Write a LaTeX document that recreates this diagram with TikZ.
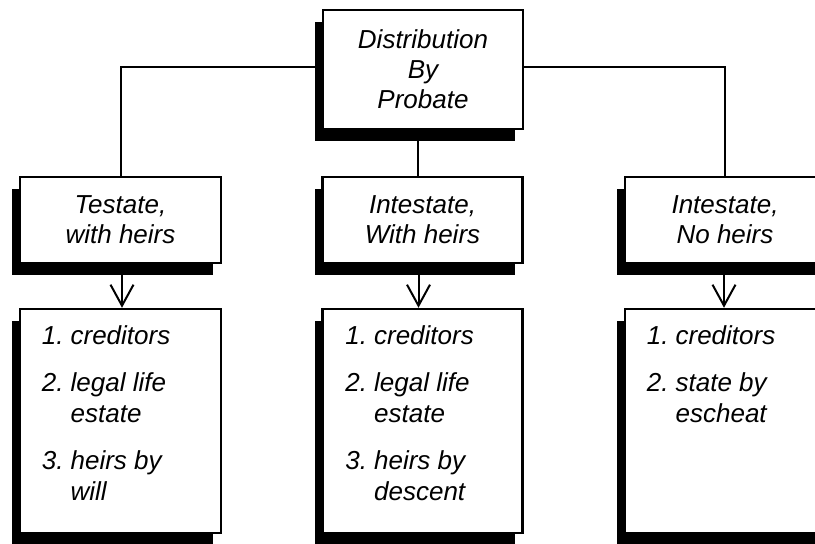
\documentclass[tikz,border=0pt]{standalone}
\usepackage{fontspec}
\setmainfont{Liberation Sans}
\usetikzlibrary{shadows,arrows.meta}
\begin{document}
\begin{tikzpicture}[x=1pt,y=-1pt,
  box/.style={draw, line width=2.5pt, fill=white, inner sep=0pt, align=center,
    font=\fontsize{26}{30}\selectfont\itshape,
    drop shadow={shadow xshift=-8pt, shadow yshift=-12pt, opacity=1, fill=black}},
  conn/.style={line width=2pt},
  arr/.style={line width=2pt, -{Straight Barb[length=21pt,width=23pt]}},
  listtext/.style={inner sep=0pt, anchor=base west, font=\fontsize{26}{31}\selectfont\itshape, align=left}]
\useasboundingbox (0,0) rectangle (815,544);
\clip (0,0) rectangle (815,544);
\fill[white] (0,0) rectangle (815,544);

\node[box, minimum width=200pt, minimum height=119pt] (top) at (423,69.5) {Distribution\\By\\Probate};

\node[box, minimum width=201pt, minimum height=86pt] (a) at (120.5,220) {Testate,\\with heirs};
\node[box, minimum width=200pt, minimum height=86pt] (b) at (422.5,220) {Intestate,\\With heirs};
\node[box, minimum width=200pt, minimum height=86pt] (c) at (725,220) {Intestate,\\No heirs};

\node[box, minimum width=201pt, minimum height=224pt] (a3) at (120.5,421) {};
\node[box, minimum width=200pt, minimum height=224pt] (b3) at (422.5,421) {};
\node[box, minimum width=200pt, minimum height=224pt] (c3) at (725,421) {};

\draw[conn] ([yshift=2.5pt]top.west) -| (a.north);
\draw[conn] ([yshift=2.5pt]top.east) -| (c.north);
\draw[conn] ([xshift=-5pt]top.south) -- ([xshift=-5pt]top.south |- b.north);

\draw[arr] ([xshift=1.5pt]a.south) -- ([xshift=1.5pt]a3.north);
\draw[arr] ([xshift=-4pt]b.south) -- ([xshift=-4pt]b3.north);
\draw[arr] ([xshift=-1pt]c.south) -- ([xshift=-1pt]c3.north);

\node[listtext] (la) at ([xshift=23pt, yshift=-37pt]a3.north west) {\begin{tabular}[t]{@{}l@{\hspace{7pt}}l@{}}1.&creditors\\[16pt]2.&legal life\\&estate\\[16pt]3.&heirs by\\&will\end{tabular}};
\node[listtext] (lb) at ([xshift=24pt, yshift=-37pt]b3.north west) {\begin{tabular}[t]{@{}l@{\hspace{7pt}}l@{}}1.&creditors\\[16pt]2.&legal life\\&estate\\[16pt]3.&heirs by\\&descent\end{tabular}};
\node[listtext] (lc) at ([xshift=23pt, yshift=-37pt]c3.north west) {\begin{tabular}[t]{@{}l@{\hspace{7pt}}l@{}}1.&creditors\\[16pt]2.&state by\\&escheat\end{tabular}};
\end{tikzpicture}
\end{document}
